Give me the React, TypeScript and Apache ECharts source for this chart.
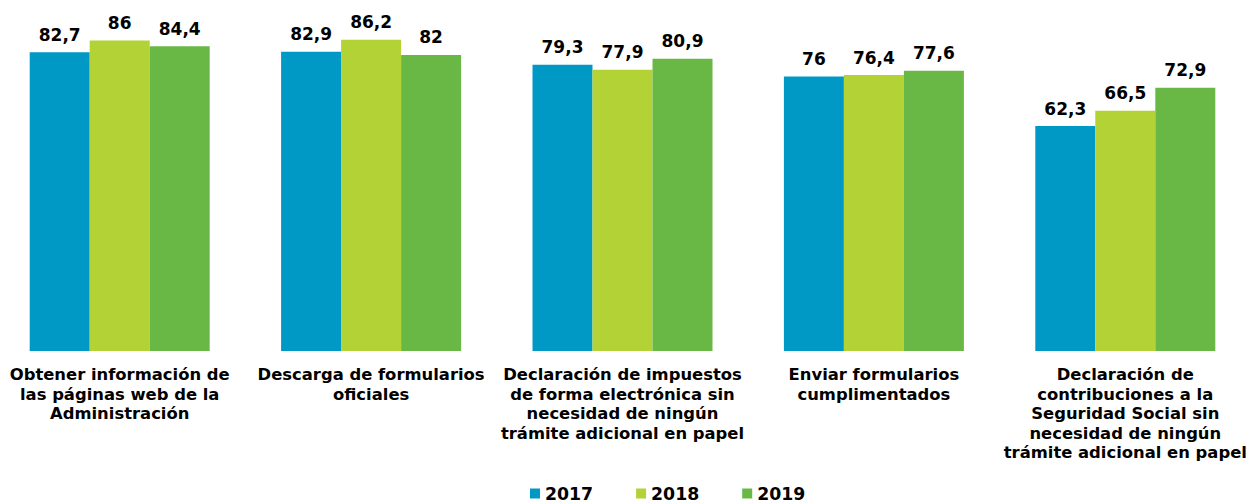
import React, { useEffect, useRef } from "react";
import * as echarts from "echarts";

const categories = [
  "Obtener información de\nlas páginas web de la\nAdministración",
  "Descarga de formularios\noficiales",
  "Declaración de impuestos\nde forma electrónica sin\nnecesidad de ningún\ntrámite adicional en papel",
  "Enviar formularios\ncumplimentados",
  "Declaración de\ncontribuciones a la\nSeguridad Social sin\nnecesidad de ningún\ntrámite adicional en papel",
];
const seriesNames = ["2017", "2018", "2019"];
const values2017 = [82.7, 82.9, 79.3, 76, 62.3];
const values2018 = [86, 86.2, 77.9, 76.4, 66.5];
const values2019 = [84.4, 82, 80.9, 77.6, 72.9];
const colors = ["#0099C6", "#B3D236", "#69B846"];

const FONT = "'DejaVu Sans', Verdana, sans-serif";

export default function App() {
  const ref = useRef<HTMLDivElement>(null);
  useEffect(() => {
    document.body.style.margin = "0";
    document.body.style.overflow = "hidden";
    const chart = echarts.init(ref.current!, null, { renderer: "svg" });
    const allValues = [values2017, values2018, values2019];
    chart.setOption({
      animation: false,
      textStyle: { fontFamily: FONT },
      grid: { left: 0, right: 0, top: 0, bottom: 151, containLabel: false },
      legend: {
        data: seriesNames,
        top: 485,
        left: 536,
        padding: 0,
        icon: "rect",
        itemWidth: 10,
        itemHeight: 10,
        itemGap: 43,
        textStyle: { fontFamily: FONT, fontWeight: "bold", fontSize: 17.3, color: "#000" },
      },
      xAxis: {
        type: "category",
        data: categories,
        axisLine: { show: false },
        axisTick: { show: false },
        axisLabel: {
          interval: 0,
          margin: 14,
          fontFamily: FONT,
          fontWeight: "bold",
          fontSize: 16.4,
          lineHeight: 19.5,
          color: "#000",
          align: "center",
        },
      },
      yAxis: {
        type: "value",
        min: 0,
        max: 97.2,
        show: false,
        splitLine: { show: false },
      },
      series: seriesNames.map((name, i) => ({
        name,
        type: "bar",
        data: allValues[i],
        barGap: "0%",
        barCategoryGap: "28.4%",
        itemStyle: { color: colors[i] },
        label: {
          show: true,
          position: "top",
          distance: 9,
          fontFamily: FONT,
          fontWeight: "bold",
          fontSize: 17,
          color: "#000",
          formatter: (p: any) => String(p.value).replace(".", ","),
        },
      })),
    });
    return () => chart.dispose();
  }, []);
  return (
    <div
      ref={ref}
      style={{ position: "absolute", left: -6, top: 0, width: 1257, height: 502 }}
    />
  );
}
